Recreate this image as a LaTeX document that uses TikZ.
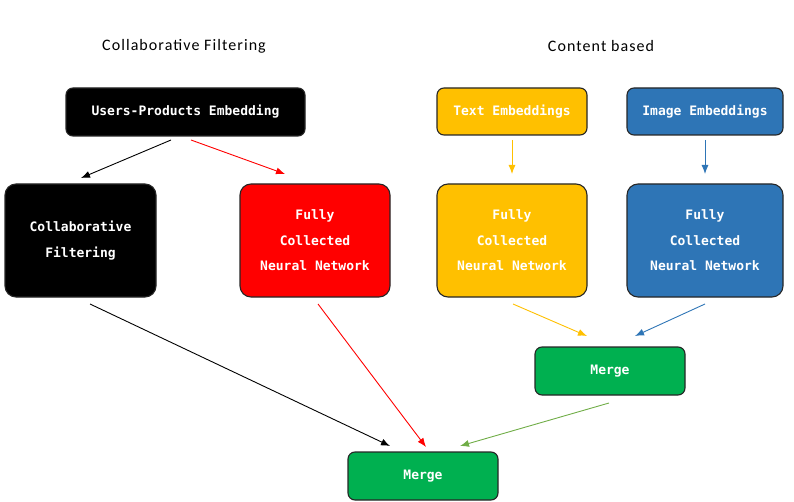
\documentclass[tikz,border=0pt]{standalone}
\usepackage{fontspec}
\setmainfont{Carlito}
\newfontfamily\titlefont[LetterSpace=6.7]{Carlito}
\newfontfamily\boxfont{DejaVu Sans Mono}
\usetikzlibrary{arrows.meta}
\definecolor{cyel}{HTML}{FFC000}
\definecolor{cblue}{HTML}{2E75B6}
\definecolor{cgreen}{HTML}{00B050}
\definecolor{cgarrow}{HTML}{70AD47}
\definecolor{cred}{HTML}{FF0000}
\definecolor{cedge}{HTML}{262626}
\begin{document}
\begin{tikzpicture}[x=1pt,y=-1pt,
  box/.style={draw=cedge, line width=1.1pt, text=white, align=center, inner sep=0pt,
    font=\boxfont\bfseries\fontsize{13}{25.5}\selectfont},
  bigbox/.style={box, rounded corners=11pt, minimum height=113pt},
  smallbox/.style={box, rounded corners=7pt, minimum height=48pt},
  title/.style={font=\titlefont\fontsize{16}{19}\selectfont, text=black},
  arr/.style={line width=0.9pt, -{Latex[length=9pt,width=7pt]}}
]
\useasboundingbox (0,0) rectangle (794,502);
% titles
\node[title] (t1) at (184,46.5) {Collaborative Filtering};
\node[title] (t2) at (601,46.5) {Content based};
% boxes
\node[smallbox, fill=black, minimum width=239pt] (upe) at (185.5,112) {Users-Products Embedding};
\node[bigbox, fill=black, minimum width=151pt] (cf) at (80.5,240.5) {Collaborative\\Filtering};
\node[bigbox, fill=cred, minimum width=150pt] (fr) at (315,240.5) {Fully\\Collected\\Neural Network};
\node[smallbox, fill=cyel, minimum width=150pt, minimum height=47pt] (te) at (512,111.5) {Text Embeddings};
\node[smallbox, fill=cblue, minimum width=156pt, minimum height=47pt] (ie) at (705,111.5) {Image Embeddings};
\node[bigbox, fill=cyel, minimum width=150pt] (fy) at (512,240.5) {Fully\\Collected\\Neural Network};
\node[bigbox, fill=cblue, minimum width=156pt] (fb) at (705,240.5) {Fully\\Collected\\Neural Network};
\node[smallbox, fill=cgreen, minimum width=150pt] (m1) at (610,371) {Merge};
\node[smallbox, fill=cgreen, minimum width=150pt] (m2) at (423,476) {Merge};
% arrow end points
\coordinate (a1s) at (171,140); \coordinate (a1e) at (81,178);
\coordinate (a2s) at (191,140); \coordinate (a2e) at (285,174);
\coordinate (a3s) at (512,140); \coordinate (a3e) at (512,174);
\coordinate (a4s) at (705,140); \coordinate (a4e) at (705,174);
\coordinate (b1s) at (90,304);  \coordinate (b1e) at (390,446);
\coordinate (b2s) at (318,304); \coordinate (b2e) at (426,447);
\coordinate (b3s) at (513,304); \coordinate (b3e) at (587,336);
\coordinate (b4s) at (705,304); \coordinate (b4e) at (635,336);
\coordinate (b5s) at (609,403); \coordinate (b5e) at (460,446);
% arrows
\draw[arr, black] (a1s) -- (a1e);
\draw[arr, cred] (a2s) -- (a2e);
\draw[arr, cyel] (a3s) -- (a3e);
\draw[arr, cblue] (a4s) -- (a4e);
\draw[arr, black] (b1s) -- (b1e);
\draw[arr, cred] (b2s) -- (b2e);
\draw[arr, cyel] (b3s) -- (b3e);
\draw[arr, cblue] (b4s) -- (b4e);
\draw[arr, cgarrow] (b5s) -- (b5e);
\end{tikzpicture}
\end{document}
